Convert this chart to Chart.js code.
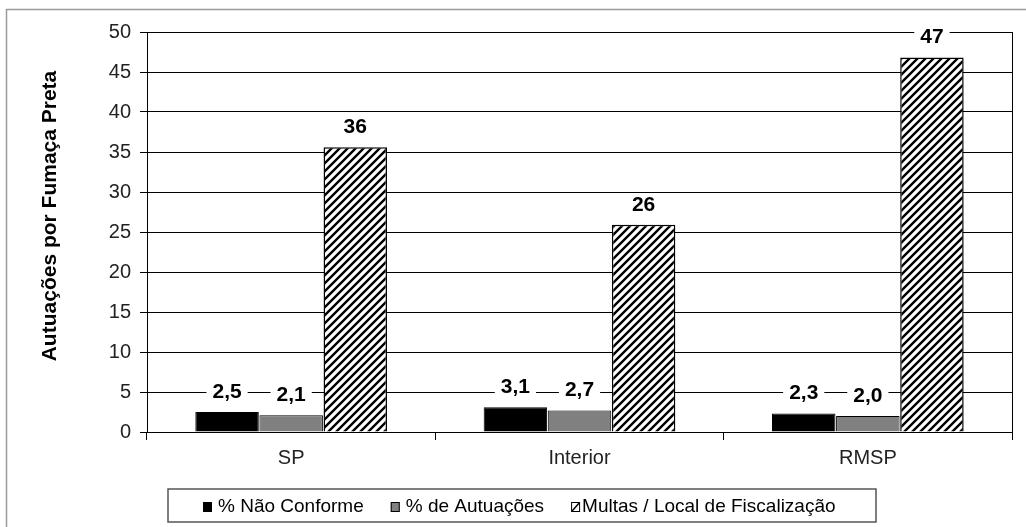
<!DOCTYPE html>
<html>
<head>
<meta charset="utf-8">
<script src="https://cdn.jsdelivr.net/npm/chart.js@4/dist/chart.umd.min.js"></script>
<style>
  body { margin: 0; background: #fff; }
  #wrap { width: 1026px; height: 527px; position: relative; }
</style>
</head>
<body>
<div id="wrap"><canvas id="myChart"></canvas></div>
<script>
"use strict";

const categories = ["SP", "Interior", "RMSP"];
const naoConforme = [2.5, 3.1, 2.3];
const autuacoes = [2.1, 2.7, 2.0];
const multasLocal = [35.6, 25.9, 46.8];
const seriesNames = ["% Não Conforme", "% de Autuações", "Multas / Local de Fiscalização"];
const yTitle = "Autuações por Fumaça Preta";

const FONT = "'Liberation Sans', Arial, sans-serif";

// diagonal hatch for the third series
function makeHatch() {
  const c = document.createElement("canvas");
  c.width = 8;
  c.height = 8;
  const g = c.getContext("2d");
  g.fillStyle = "#fff";
  g.fillRect(0, 0, 8, 8);
  g.strokeStyle = "#000";
  g.lineWidth = 2.4;
  g.beginPath();
  g.moveTo(0, 8);
  g.lineTo(8, 0);
  g.moveTo(-1, 1);
  g.lineTo(1, -1);
  g.moveTo(7, 9);
  g.lineTo(9, 7);
  g.stroke();
  return g.createPattern(c, "repeat");
}
const hatch = makeHatch();

function fmt(v, i) {
  if (i === 2) return String(Math.round(v));
  return v.toFixed(1).replace(".", ",");
}

// frame, right border, value labels, title and legend
const extras = {
  id: "extras",
  beforeDraw(chart) {
    const ctx = chart.ctx;
    ctx.save();
    ctx.strokeStyle = "#9a9a9a";
    ctx.lineWidth = 1.5;
    ctx.beginPath();
    ctx.moveTo(6.5, 527);
    ctx.lineTo(6.5, 9.5);
    ctx.lineTo(1026, 9.5);
    ctx.stroke();
    ctx.restore();
  },
  afterDatasetsDraw(chart) {
    const ctx = chart.ctx;
    const area = chart.chartArea;
    ctx.save();
    ctx.strokeStyle = "#000";
    ctx.lineWidth = 1;
    ctx.beginPath();
    ctx.moveTo(Math.round(area.right) + 0.5, area.top);
    ctx.lineTo(Math.round(area.right) + 0.5, area.bottom + 8);
    ctx.stroke();

    ctx.font = "bold 21px " + FONT;
    ctx.textAlign = "center";
    ctx.textBaseline = "middle";
    chart.data.datasets.forEach((ds, i) => {
      chart.getDatasetMeta(i).data.forEach((bar, j) => {
        const txt = fmt(ds.data[j], i);
        const w = ctx.measureText(txt).width;
        const cy = bar.y - 20;
        ctx.fillStyle = "#fff";
        ctx.fillRect(bar.x - w / 2 - 6, cy - 10, w + 12, 20);
        ctx.fillStyle = "#000";
        ctx.fillText(txt, bar.x, cy);
      });
    });

    // y title
    ctx.save();
    ctx.translate(50, 216);
    ctx.rotate(-Math.PI / 2);
    ctx.font = "bold 21px " + FONT;
    ctx.fillText(yTitle, 0, 0);
    ctx.restore();

    // legend
    ctx.strokeStyle = "#555";
    ctx.lineWidth = 1.5;
    ctx.strokeRect(168, 489, 708, 33);
    ctx.font = "19px " + FONT;
    ctx.textAlign = "left";
    let x = 203;
    chart.data.datasets.forEach((ds, i) => {
      ctx.fillStyle = i === 2 ? "#fff" : ds.backgroundColor;
      ctx.fillRect(x, 502, 9, 10);
      ctx.strokeStyle = "#000";
      ctx.lineWidth = 1;
      ctx.strokeRect(x + 0.5, 502.5, 8, 9);
      if (i === 2) {
        ctx.lineWidth = 1.5;
        ctx.beginPath();
        ctx.moveTo(x + 1, 511);
        ctx.lineTo(x + 8, 503);
        ctx.stroke();
      }
      ctx.fillStyle = "#000";
      const tx = x + (i === 2 ? 11 : 15);
      ctx.fillText(ds.label, tx, 507);
      x = tx + ctx.measureText(ds.label).width + 27;
    });
    ctx.restore();
  },
};

const ctxOne = document.getElementById("myChart");

new Chart(ctxOne, {
  type: "bar",
  data: {
    labels: categories,
    datasets: [
      {
        label: seriesNames[0],
        data: naoConforme,
        backgroundColor: "#000000",
        borderColor: "#000",
        borderWidth: 1,
      },
      {
        label: seriesNames[1],
        data: autuacoes,
        backgroundColor: "#808080",
        borderColor: "#000",
        borderWidth: 1,
      },
      {
        label: seriesNames[2],
        data: multasLocal,
        backgroundColor: hatch,
        borderColor: "#000",
        borderWidth: 1.5,
      },
    ],
  },
  options: {
    responsive: true,
    maintainAspectRatio: false,
    animation: false,
    categoryPercentage: 0.667,
    barPercentage: 0.99,
    layout: {
      padding: { left: 0, top: 32, right: 14, bottom: 55 },
    },
    plugins: {
      legend: { display: false },
      tooltip: { enabled: false },
    },
    scales: {
      x: {
        afterFit: (s) => { s.height = 40; },
        grid: {
          drawOnChartArea: false,
          drawTicks: true,
          tickLength: 8,
          color: "#000",
          offset: true,
        },
        border: { color: "#000", width: 1 },
        ticks: {
          color: "#222",
          padding: 6,
          font: { family: FONT, size: 20 },
        },
      },
      y: {
        min: 0,
        max: 50,
        afterFit: (s) => { s.width = 147; },
        grid: {
          color: "#000",
          lineWidth: 1,
          tickLength: 7,
        },
        border: { color: "#000", width: 1 },
        ticks: {
          stepSize: 5,
          color: "#222",
          padding: 9,
          font: { family: FONT, size: 20 },
        },
      },
    },
  },
  plugins: [extras],
});
</script>
</body>
</html>
